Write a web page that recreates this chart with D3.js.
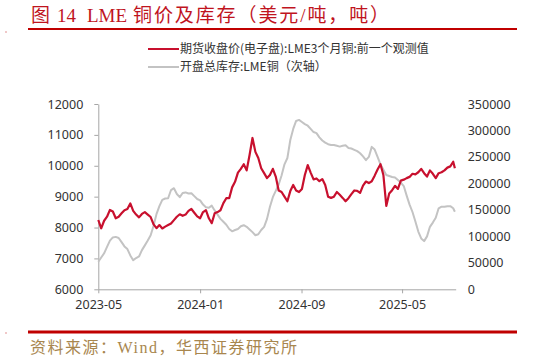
<!DOCTYPE html>
<html><head><meta charset="utf-8">
<script src="https://cdn.jsdelivr.net/npm/d3@7"></script>
<style>
html,body{margin:0;padding:0;background:#fff;}
svg{display:block;}
</style>
</head><body>
<svg id="chart" width="533" height="360"></svg>
<script>
const dates = [
"2023-05-01","2023-05-08","2023-05-15","2023-05-22","2023-05-29","2023-06-05","2023-06-12","2023-06-19","2023-06-26","2023-07-03",
"2023-07-10","2023-07-17","2023-07-24","2023-07-31","2023-08-07","2023-08-14","2023-08-21","2023-08-28","2023-09-04","2023-09-11",
"2023-09-18","2023-09-25","2023-10-02","2023-10-09","2023-10-16","2023-10-23","2023-10-30","2023-11-06","2023-11-13","2023-11-20",
"2023-11-27","2023-12-04","2023-12-11","2023-12-18","2023-12-25","2024-01-01","2024-01-08","2024-01-15","2024-01-22","2024-01-29",
"2024-02-05","2024-02-12","2024-02-19","2024-02-26","2024-03-04","2024-03-11","2024-03-18","2024-03-25","2024-04-01","2024-04-08",
"2024-04-15","2024-04-22","2024-04-29","2024-05-06","2024-05-13","2024-05-20","2024-05-27","2024-06-03","2024-06-10","2024-06-17",
"2024-06-24","2024-07-01","2024-07-08","2024-07-15","2024-07-22","2024-07-29","2024-08-05","2024-08-12","2024-08-19","2024-08-26",
"2024-09-02","2024-09-09","2024-09-16","2024-09-23","2024-09-30","2024-10-07","2024-10-14","2024-10-21","2024-10-28","2024-11-04",
"2024-11-11","2024-11-18","2024-11-25","2024-12-02","2024-12-09","2024-12-16","2024-12-23","2024-12-30","2025-01-06","2025-01-13",
"2025-01-20","2025-01-27","2025-02-03","2025-02-10","2025-02-17","2025-02-24","2025-03-03","2025-03-10","2025-03-17","2025-03-24",
"2025-03-31","2025-04-07","2025-04-14","2025-04-21","2025-04-28","2025-05-05","2025-05-12","2025-05-19","2025-05-26","2025-06-02",
"2025-06-09","2025-06-16","2025-06-23","2025-06-30","2025-07-07","2025-07-14","2025-07-21","2025-07-28","2025-08-04","2025-08-11",
"2025-08-18","2025-08-25","2025-09-01","2025-09-05"];

const copperPrice = [
8244,7975,8220,8350,8570,8520,8300,8350,8460,8560,
8600,8780,8540,8420,8330,8440,8500,8420,8340,8100,
7980,8080,7970,8030,8080,8130,8240,8350,8430,8380,
8420,8540,8600,8480,8360,8300,8500,8560,8300,8140,
8460,8500,8560,8790,8950,8950,9300,9480,9780,9900,
10050,9850,10350,10900,10450,10250,9920,9760,9600,9700,
9900,9650,9200,9150,9000,8850,9180,9380,9200,9150,
9250,9700,10020,9780,9560,9590,9500,9570,9380,9000,
8960,9000,9150,9060,8960,8850,8950,9080,9200,9190,
9120,9360,9490,9440,9500,9680,9880,10050,9700,8700,
9100,9210,9350,9250,9520,9550,9600,9640,9740,9720,
9790,9900,9760,9650,9850,9740,9600,9760,9790,9850,
9940,9980,10130,9920];

const lmeStock = [
52000,60000,68000,80000,92000,98000,99000,97000,89000,81000,
76000,64000,55000,59000,62000,74000,83000,92000,102000,120000,
142000,157000,169000,171500,172000,187500,191000,180000,174000,182000,
183000,181000,181500,176000,170500,168000,160000,155000,154000,158000,
149000,141000,133000,127500,122000,114000,109500,112000,114000,119000,
121000,118000,113000,108000,102000,104000,112000,118000,133000,156000,
174000,186000,198000,215000,236000,248000,282000,303000,318000,320000,
316000,312000,309000,303000,297000,295000,287000,281000,277000,274000,
272500,272500,271000,269500,271000,272000,267000,266000,263500,261000,
257000,251000,244000,250000,269000,264000,250000,236000,226000,216000,
214000,212000,211000,206500,201500,195000,177000,160000,146000,128000,
109000,96000,91000,100000,118000,126000,135000,153000,156000,156000,
157000,157000,153000,146600];

const xTicks = ["2023-05-01","2024-01-01","2024-09-01","2025-05-01"];
const leftTicks = [6000,7000,8000,9000,10000,11000,12000];
const rightTicks = [0,50000,100000,150000,200000,250000,300000,350000];
const seriesNames = ["期货收盘价(电子盘):LME3个月铜:前一个观测值","开盘总库存:LME铜（次轴）"];
const titleParts = ["图", "14", "LME", "铜价及库存（美元/吨，吨）"];
const sourceText = "资料来源：Wind，华西证券研究所";

const parse = d3.timeParse("%Y-%m-%d");
const svg = d3.select("#chart");
const X0 = 98.3, X1 = 455.7, Y0 = 289.3, Y1 = 104;

const x = d3.scaleTime().domain([parse("2023-05-01"), parse("2025-09-07")]).range([X0, X1]);
const yL = d3.scaleLinear().domain([6000, 12000]).range([Y0, Y1]);
const yR = d3.scaleLinear().domain([0, 350000]).range([Y0, Y1]);

const red = "#c8102e", gray = "#c3c3c3";
const sansFont = "'Noto Sans', 'Noto Sans CJK SC', sans-serif";
const serifFont = "'Liberation Serif','Noto Sans CJK SC',serif";

// Title
const title = svg.append("text").attr("y", 22)
  .attr("font-family", serifFont).attr("font-size", 19).attr("fill", "#c0141e");
const titleX = [31, 57, 87, 133];
titleParts.forEach((t, i) => {
  const ts = title.append("tspan").attr("x", titleX[i]).text(t);
  if (i === 3) ts.attr("letter-spacing", 1.9);
});
svg.append("rect").attr("x", 28).attr("y", 28).attr("width", 489).attr("height", 2).attr("fill", "#c00000");
svg.append("rect").attr("x", 5).attr("y", 31).attr("width", 2).attr("height", 2).attr("fill", "#f0c8c8");

// Legend
const legend = svg.append("g");
[[red, 49], [gray, 67]].forEach((d, i) => {
  legend.append("line").attr("x1", 148).attr("x2", 179).attr("y1", d[1]).attr("y2", d[1])
    .attr("stroke", d[0]).attr("stroke-width", 2);
  legend.append("text").attr("x", 180).attr("y", d[1] + 4.3)
    .attr("font-family", "'Noto Sans CJK SC', sans-serif").attr("font-size", 12)
    .attr("fill", "#333").text(seriesNames[i]);
});

// Axes
const gx = svg.append("g").attr("transform", `translate(0,${Y0})`)
  .call(d3.axisBottom(x).tickValues(xTicks.map(parse)).tickFormat(d3.timeFormat("%Y-%m")).tickSize(4).tickSizeOuter(0).tickPadding(7));
const gl = svg.append("g").attr("transform", `translate(${X0},0)`)
  .call(d3.axisLeft(yL).tickValues(leftTicks).tickFormat(d3.format("d")).tickSize(4).tickSizeOuter(0).tickPadding(11));
const gr = svg.append("g").attr("transform", `translate(${X1},0)`)
  .call(d3.axisRight(yR).tickValues(rightTicks).tickFormat(d3.format("d")).tickSize(0).tickPadding(12));
gr.select(".domain").remove();
[gx, gl, gr].forEach(g => {
  g.selectAll(".domain, .tick line").attr("stroke", "#a6a6a6");
  g.selectAll("text").attr("font-family", sansFont).attr("font-size", 12.5).attr("fill", "#333");
});

// Lines
const pts = dates.map(parse);
const stockLine = d3.line().x((d, i) => x(pts[i])).y(d => yR(d));
const priceLine = d3.line().x((d, i) => x(pts[i])).y(d => yL(d));
svg.append("path").datum(lmeStock).attr("d", stockLine)
  .attr("fill", "none").attr("stroke", gray).attr("stroke-width", 2).attr("stroke-linejoin", "round");
svg.append("path").datum(copperPrice).attr("d", priceLine)
  .attr("fill", "none").attr("stroke", red).attr("stroke-width", 2.2).attr("stroke-linejoin", "round");

// Footer
svg.append("rect").attr("x", 28).attr("y", 330.5).attr("width", 489).attr("height", 3).attr("fill", "#c00000");
svg.append("rect").attr("x", 5).attr("y", 332).attr("width", 2).attr("height", 2).attr("fill", "#f0c8c8");
svg.append("text").attr("x", 30).attr("y", 353)
  .attr("font-family", serifFont).attr("letter-spacing", 1.5)
  .attr("font-size", 16).attr("fill", "#a8864e").text(sourceText);
</script>
</body></html>
